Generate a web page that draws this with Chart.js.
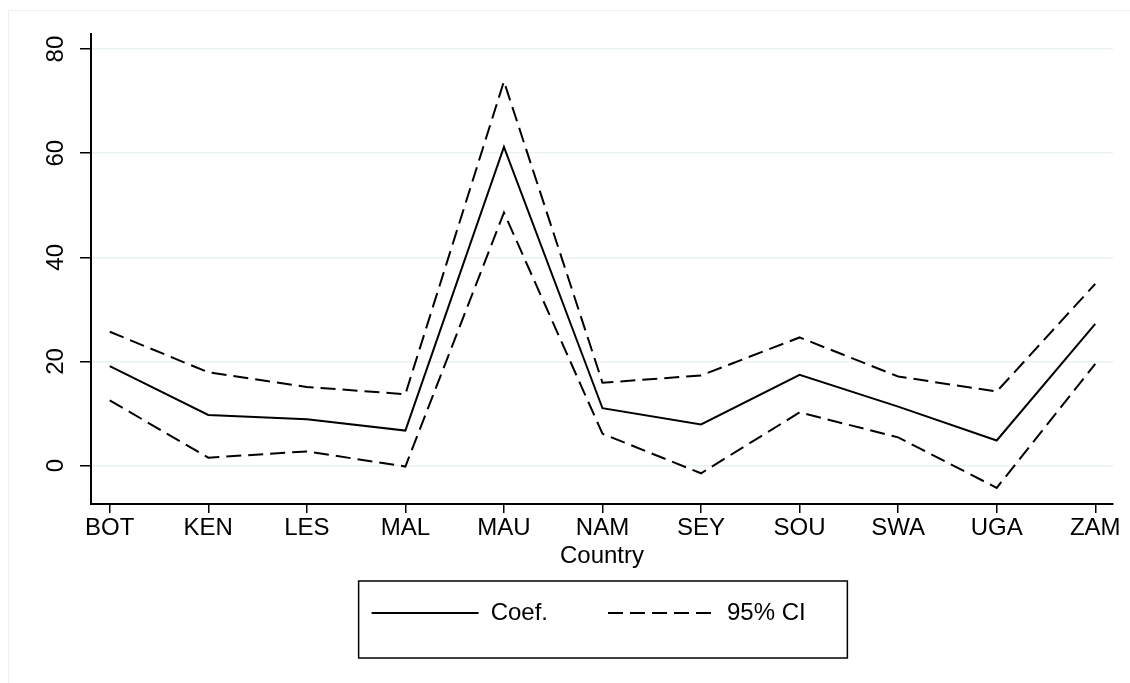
<!DOCTYPE html>
<html>
<head>
<meta charset="utf-8">
<script src="https://cdn.jsdelivr.net/npm/chart.js@4"></script>
<style>
    body { margin: 0; background: #fff; }
    #wrap { width: 1130px; height: 683px; }
</style>
</head>
<body>
<div id="wrap"><canvas id="coefChart" width="1130" height="683"></canvas></div>
<script>
// Data
const countries = ['BOT', 'KEN', 'LES', 'MAL', 'MAU', 'NAM', 'SEY', 'SOU', 'SWA', 'UGA', 'ZAM'];
const coef = [19.1, 9.7, 8.9, 6.7, 61.2, 11.0, 7.9, 17.4, 11.3, 4.8, 27.2];
const ciUpper = [25.7, 17.9, 15.1, 13.7, 73.8, 15.9, 17.3, 24.6, 17.1, 14.2, 34.9];
const ciLower = [12.5, 1.5, 2.7, -0.2, 48.6, 6.1, -1.5, 10.2, 5.4, -4.3, 19.5];
const yTicks = [0, 20, 40, 60, 80];

const font = { family: '"Liberation Sans", Arial, Helvetica, sans-serif', size: 24 };
const ciDash = [15, 7];

const toPoints = (arr) => arr.map((v, i) => ({ x: i, y: v }));

// faint outer frame + box around legend
const framePlugin = {
    id: 'frames',
    afterDraw(chart) {
        const ctx = chart.ctx;
        ctx.save();
        ctx.strokeStyle = '#eceff0';
        ctx.lineWidth = 1;
        ctx.strokeRect(8.5, 10.5, 1130, 683);

        const lg = chart.legend;
        const hb = lg.legendHitBoxes;
        if (hb && hb.length) {
            const last = hb[hb.length - 1];
            const left = hb[0].left - 13;
            const right = last.left + last.width + 15;
            ctx.strokeStyle = '#000';
            ctx.lineWidth = 1.5;
            ctx.strokeRect(left, lg.top, right - left, 77);
        }
        ctx.restore();
    }
};

let chart = new Chart(document.getElementById('coefChart'), {
    type: 'line',
    data: {
        datasets: [{
            label: 'Coef.',
            data: toPoints(coef),
            borderColor: '#000',
            borderWidth: 2,
            pointRadius: 0,
            tension: 0
        }, {
            label: '95% CI',
            data: toPoints(ciUpper),
            borderColor: '#000',
            borderWidth: 2,
            borderDash: ciDash,
            pointRadius: 0,
            tension: 0
        }, {
            label: 'lower',
            data: toPoints(ciLower),
            borderColor: '#000',
            borderWidth: 2,
            borderDash: ciDash,
            pointRadius: 0,
            tension: 0
        }]
    },
    options: {
        responsive: false,
        animation: false,
        events: [],
        layout: {
            padding: { left: 0, right: 17, top: 34, bottom: 48 }
        },
        scales: {
            x: {
                type: 'linear',
                min: -0.19,
                max: 10.18,
                afterBuildTicks: (scale) => {
                    scale.ticks = countries.map((c, i) => ({ value: i }));
                },
                afterFit: (scale) => { scale.height = 77; },
                ticks: {
                    color: '#000',
                    font: font,
                    padding: 1,
                    maxRotation: 0,
                    autoSkip: false,
                    callback: (v) => countries[v]
                },
                grid: {
                    drawOnChartArea: false,
                    tickColor: '#000',
                    tickLength: 9,
                    lineWidth: 1.5
                },
                border: { color: '#000', width: 2 },
                title: {
                    display: true,
                    text: 'Country',
                    color: '#000',
                    font: font,
                    padding: { top: 0, bottom: 10 }
                }
            },
            y: {
                min: -7.4,
                max: 82.9,
                afterBuildTicks: (scale) => {
                    scale.ticks = yTicks.map((v) => ({ value: v }));
                },
                afterFit: (scale) => { scale.width = 91; },
                ticks: {
                    color: '#000',
                    font: font,
                    padding: 10,
                    minRotation: 90,
                    maxRotation: 90,
                    crossAlign: 'center'
                },
                grid: {
                    color: '#eaf2f2',
                    lineWidth: 1.5,
                    tickColor: '#000',
                    tickLength: 11
                },
                border: { color: '#000', width: 2 }
            }
        },
        plugins: {
            tooltip: { enabled: false },
            legend: {
                position: 'bottom',
                fullSize: false,
                labels: {
                    color: '#000',
                    font: font,
                    padding: 20,
                    usePointStyle: true,
                    pointStyle: 'line',
                    pointStyleWidth: 107,
                    boxWidth: 107,
                    filter: (item) => item.datasetIndex < 2,
                    generateLabels: (c) => {
                        let items = Chart.defaults.plugins.legend.labels.generateLabels(c);
                        items[0].text = items[0].text + '      ';
                        items[1].text = items[1].text + '    ';
                        items[1].lineDash = c.data.datasets[1].borderDash;
                        return items;
                    }
                }
            }
        }
    },
    plugins: [framePlugin]
});
</script>
</body>
</html>
